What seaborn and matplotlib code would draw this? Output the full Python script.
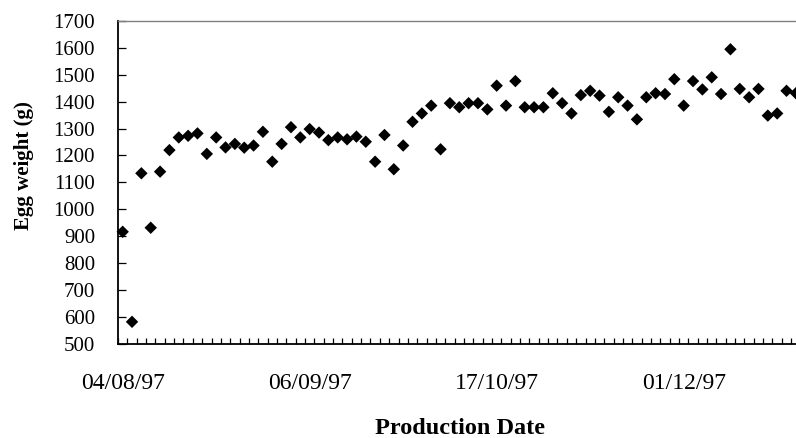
import matplotlib
matplotlib.use("Agg")
import matplotlib.pyplot as plt
import seaborn as sns
import pandas as pd
import numpy as np
from matplotlib.ticker import FixedLocator, MultipleLocator

# ---- data ----
egg_weight = [917, 583, 1134, 932, 1140, 1220, 1267, 1273, 1282, 1206,
              1267, 1230, 1243, 1229, 1237, 1288, 1177, 1243, 1305, 1267,
              1298, 1285, 1257, 1267, 1260, 1270, 1251, 1177, 1276, 1149,
              1237, 1325, 1356, 1385, 1223, 1394, 1379, 1394, 1394, 1371,
              1459, 1385, 1476, 1379, 1379, 1379, 1431, 1394, 1356, 1424,
              1440, 1422, 1362, 1416, 1385, 1334, 1416, 1431, 1428, 1483,
              1385, 1476, 1445, 1490, 1428, 1594, 1447, 1416, 1447, 1348,
              1356, 1440, 1431]
date_labels = ["04/08/97", "06/09/97", "17/10/97", "01/12/97"]
date_label_index = [0, 20, 40, 60]

df = pd.DataFrame({"obs": np.arange(len(egg_weight)), "weight": egg_weight})

plt.rcParams["font.family"] = ["Liberation Serif", "DejaVu Serif"]

W, H = 796, 438
fig = plt.figure(figsize=(W / 100, H / 100), dpi=100)
n_slots = 80
slot_px = 9.35
left_px, top_px, bottom_px = 118, 20.7, 344.2
ax = fig.add_axes([left_px / W, 1 - bottom_px / H,
                   n_slots * slot_px / W, (bottom_px - top_px) / H])

sns.scatterplot(data=df, x="obs", y="weight", ax=ax, marker="D", s=40,
                color="black", edgecolor="none", linewidth=0, legend=False,
                clip_on=False, zorder=3)

ax.set_xlim(-0.5, n_slots - 0.5)
ax.set_ylim(500, 1700)
ax.yaxis.set_major_locator(MultipleLocator(100))

ax.xaxis.set_major_locator(FixedLocator(date_label_index))
ax.set_xticklabels(date_labels)
ax.xaxis.set_minor_locator(FixedLocator(np.arange(-0.5, n_slots, 1.0)))
ax.tick_params(axis="x", which="major", length=0, pad=21, labelsize=17)
ax.tick_params(axis="x", which="minor", direction="in", length=4.5,
               width=0.9, color="black")
ax.tick_params(axis="y", which="major", direction="in", length=5.8,
               width=0.9, pad=16.5, labelsize=15)

ax.set_xlabel("")
ax.set_ylabel("")
for side in ["left", "bottom"]:
    ax.spines[side].set_color("black")
    ax.spines[side].set_linewidth(1.3)
ax.spines["top"].set_color("#808080")
ax.spines["top"].set_linewidth(1.0)
ax.spines["right"].set_visible(False)
ax.set_facecolor("white")
ax.grid(False)

fig.text(24 / W, 1 - 166 / H, "Egg weight (g)", rotation=90, ha="center",
         va="center", fontsize=15, fontweight="bold")
fig.text(460 / W, 1 - 434 / H, "Production Date", ha="center",
         va="baseline", fontsize=17.5, fontweight="bold")

fig.savefig("out.png", dpi=100, facecolor="white")
